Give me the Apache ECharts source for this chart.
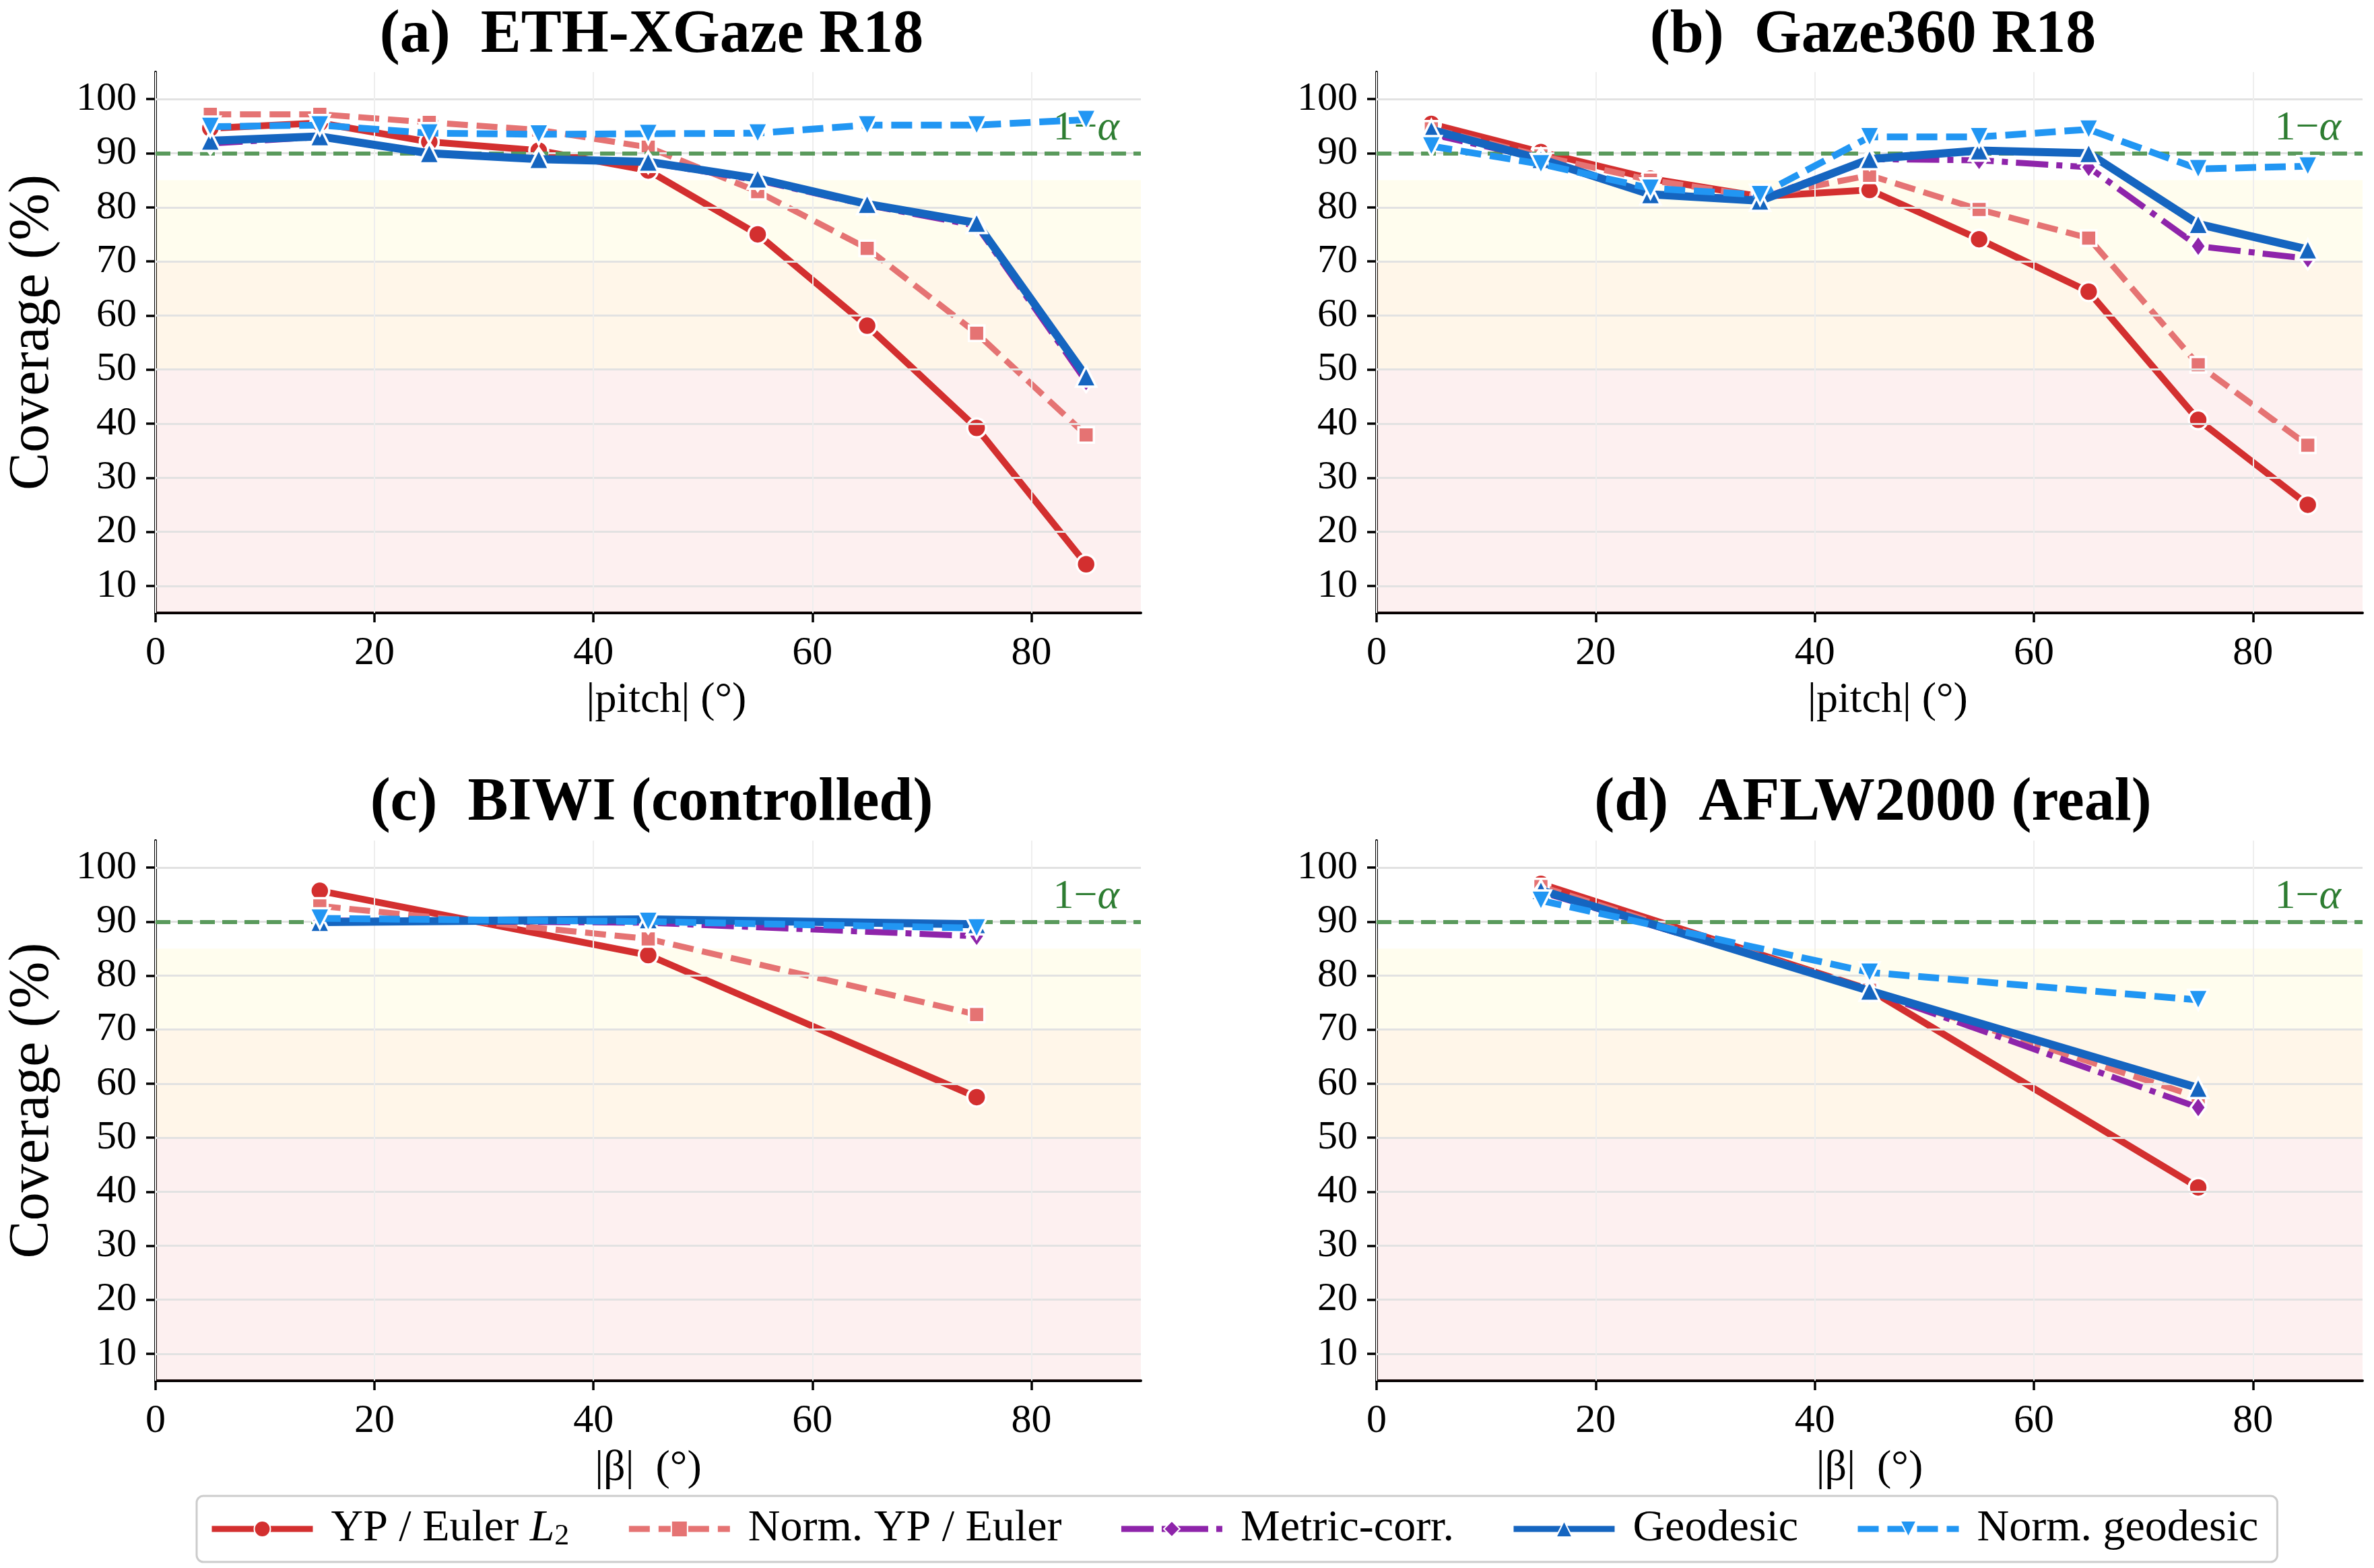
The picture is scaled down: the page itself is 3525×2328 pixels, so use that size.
<!DOCTYPE html>
<html>
<head>
<meta charset="utf-8">
<script src="https://cdn.jsdelivr.net/npm/echarts@6/dist/echarts.min.js"></script>
<style>
html,body{margin:0;padding:0;background:#fff;}
#chart{width:3525px;height:2328px;}
</style>
</head>
<body>
<div id="chart"></div>
<script>
// ---------------- data ----------------
const pitchBins = [5, 15, 25, 35, 45, 55, 65, 75, 85];
const betaBins = [15, 45, 75];

const titles = ['(a)  ETH-XGaze R18', '(b)  Gaze360 R18', '(c)  BIWI (controlled)', '(d)  AFLW2000 (real)'];
const xNames = ['|pitch| (°)', '|pitch| (°)', '|β|  (°)', '|β|  (°)'];
const seriesNames = ['YP / Euler L2', 'Norm. YP / Euler', 'Metric-corr.', 'Geodesic', 'Norm. geodesic'];
const yTicks = [10, 20, 30, 40, 50, 60, 70, 80, 90, 100];
const xTicks = [0, 20, 40, 60, 80];

// (a) ETH-XGaze R18
const ypA   = [94.6, 95.6, 92.1, 90.5, 86.8, 75.0, 58.1, 39.2, 14.0];
const nypA  = [97.2, 97.2, 95.7, 94.3, 91.1, 82.9, 72.4, 56.7, 37.9];
const metA  = [91.8, 93.0, 90.0, 89.0, 88.3, 85.0, 80.4, 76.6, 47.8];
const geoA  = [92.3, 93.1, 90.0, 88.9, 88.4, 85.3, 80.6, 77.1, 48.7];
const ngeoA = [94.9, 95.2, 93.7, 93.5, 93.6, 93.7, 95.2, 95.2, 96.2];
// (b) Gaze360 R18
const ypB   = [95.4, 90.2, 85.3, 82.0, 83.2, 74.1, 64.4, 40.7, 25.0];
const nypB  = [94.5, 89.5, 85.0, 82.0, 85.9, 79.6, 74.3, 50.9, 36.0];
const metB  = [93.5, 89.0, 82.5, 81.5, 88.9, 88.7, 87.4, 72.8, 70.5];
const geoB  = [94.3, 88.9, 82.4, 81.2, 88.9, 90.5, 90.0, 76.9, 72.2];
const ngeoB = [91.3, 88.0, 83.5, 82.3, 93.0, 93.0, 94.4, 87.1, 87.6];
// (c) BIWI (controlled)
const ypC   = [95.7, 83.8, 57.5];
const nypC  = [92.9, 86.8, 72.8];
const metC  = [90.2, 89.8, 87.3];
const geoC  = [89.9, 90.4, 89.5];
const ngeoC = [90.6, 90.0, 88.8];
// (d) AFLW2000 (real)
const ypD   = [97.0, 77.4, 40.8];
const nypD  = [96.5, 77.3, 57.5];
const metD  = [95.5, 77.2, 55.6];
const geoD  = [95.8, 77.2, 59.2];
const ngeoD = [93.9, 80.6, 75.5];

const targetLevel = 90;
const bands = [[5, 50], [50, 70], [70, 85]];

// ---------------- styling ----------------
const FONT = 'Liberation Serif';
const panels = [
  {xs: pitchBins, vals: [ypA, nypA, metA, geoA, ngeoA]},
  {xs: pitchBins, vals: [ypB, nypB, metB, geoB, ngeoB]},
  {xs: betaBins,  vals: [ypC, nypC, metC, geoC, ngeoC]},
  {xs: betaBins,  vals: [ypD, nypD, metD, geoD, ngeoD]}
];
const gridPos = [
  {left: 231, top: 107, width: 1463, height: 803},
  {left: 2044, top: 107, width: 1464, height: 803},
  {left: 231, top: 1248, width: 1463, height: 802},
  {left: 2044, top: 1248, width: 1464, height: 802}
];
const styles = [
  {color: '#d32f2f', type: 'solid', width: 10, symbol: 'circle', size: 28, rot: 0},
  {color: '#e57373', type: [31, 13], width: 9, symbol: 'rect', size: 23, rot: 0},
  {color: '#8e24aa', type: [48, 12, 9, 12], width: 9, symbol: 'diamond', size: [23, 32], rot: 0},
  {color: '#1565c0', type: 'solid', width: 12, symbol: 'triangle', size: 30, rot: 0},
  {color: '#2196f3', type: [31, 13], width: 10, symbol: 'triangle', size: 30, rot: 180}
];
const bandColors = ['rgba(229,57,53,0.075)', 'rgba(255,152,0,0.085)', 'rgba(255,235,59,0.085)'];

const grids = [], xAxes = [], yAxes = [], series = [], titleOpts = [];
panels.forEach((p, k) => {
  grids.push(Object.assign({containLabel: false}, gridPos[k]));
  xAxes.push({
    type: 'value', gridIndex: k, min: 0, max: 90, interval: 10,
    name: xNames[k], nameLocation: 'middle', nameGap: 98,
    nameTextStyle: {fontFamily: FONT, fontSize: 64, color: '#000', padding: k < 2 ? [0, 0, 0, 54] : 0},
    axisLine: {lineStyle: {color: '#000', width: 4}},
    axisTick: {show: true, customValues: xTicks, length: 14, lineStyle: {color: '#000', width: 3.5}},
    axisLabel: {customValues: xTicks, fontFamily: FONT, fontSize: 60, color: '#000', margin: 30},
    splitLine: {show: false}
  });
  yAxes.push({
    type: 'value', gridIndex: k, min: 5, max: 105, interval: 5,
    name: (k % 2 === 0) ? 'Coverage (%)' : '', nameLocation: 'middle', nameGap: 140,
    nameTextStyle: {fontFamily: FONT, fontSize: 84, color: '#000', padding: [0, 0, 0, 30]},
    axisLine: {show: true, lineStyle: {color: '#000', width: 4}},
    axisTick: {show: true, customValues: yTicks, length: 14, lineStyle: {color: '#000', width: 3.5}},
    axisLabel: {customValues: yTicks, fontFamily: FONT, fontSize: 60, color: '#000', margin: 28},
    splitLine: {show: false}
  });
  const cx = gridPos[k].left + gridPos[k].width / 2;
  titleOpts.push({
    text: titles[k], left: cx, textAlign: 'center', top: k < 2 ? 4 : 1144,
    textStyle: {fontFamily: FONT, fontSize: 90, fontWeight: 'bold', color: '#000'}
  });
  // helper series: bands, grid lines, target line
  const gridLines = yTicks.map(v => ({yAxis: v, lineStyle: {color: '#e2e2e2', width: 3, type: 'solid'}}))
    .concat(xTicks.map(v => ({xAxis: v, lineStyle: {color: '#eeeeee', width: 2, type: 'solid'}})));
  gridLines.push({
    yAxis: targetLevel,
    lineStyle: {color: '#5a9a5c', width: 6, type: [22, 11]},
    label: {
      show: true, position: 'insideEndTop', distance: [32, 6],
      formatter: '{n|1−}{a|α}',
      rich: {
        n: {fontFamily: FONT, fontSize: 62, color: '#2e7d32'},
        a: {fontFamily: FONT, fontSize: 62, fontStyle: 'italic', color: '#2e7d32'}
      }
    }
  });
  series.push({
    type: 'line', xAxisIndex: k, yAxisIndex: k, data: [], z: 1, silent: true,
    markArea: {
      silent: true,
      data: bands.map((b, i) => [{yAxis: b[0], itemStyle: {color: bandColors[i]}}, {yAxis: b[1]}])
    },
    markLine: {silent: true, symbol: ['none', 'none'], label: {show: false}, data: gridLines}
  });
  p.vals.forEach((arr, s) => {
    const st = styles[s];
    series.push({
      name: seriesNames[s], type: 'line', xAxisIndex: k, yAxisIndex: k, z: 3 + s,
      data: p.xs.map((x, i) => [x, arr[i]]),
      symbol: st.symbol, symbolSize: st.size, symbolRotate: st.rot, showAllSymbol: true,
      lineStyle: {color: st.color, width: st.width, type: st.type},
      itemStyle: {color: st.color, borderColor: '#ffffff', borderWidth: 3.5}
    });
  });
});

const chart = echarts.init(document.getElementById('chart'), null, {renderer: 'canvas'});
chart.setOption({
  animation: false,
  backgroundColor: '#ffffff',
  textStyle: {fontFamily: FONT},
  title: titleOpts,
  grid: grids,
  xAxis: xAxes,
  yAxis: yAxes,
  legend: {
    data: seriesNames,
    left: 292, top: 2221,
    orient: 'horizontal',
    itemWidth: 150, itemHeight: 30, itemGap: 84,
    padding: [16, 28, 16, 18],
    borderColor: '#cccccc', borderWidth: 3, borderRadius: 10,
    backgroundColor: '#ffffff',
    lineStyle: {width: 9},
    formatter: name => name === 'YP / Euler L2' ? '{n|YP / Euler }{i|L}{s|2}' : name,
    textStyle: {
      fontFamily: FONT, fontSize: 66, color: '#000', padding: [0, 0, 0, 22],
      rich: {
        n: {fontFamily: FONT, fontSize: 66, color: '#000'},
        i: {fontFamily: FONT, fontSize: 66, fontStyle: 'italic', color: '#000'},
        s: {fontFamily: FONT, fontSize: 44, color: '#000', verticalAlign: 'bottom', padding: [22, 0, 0, 0]}
      }
    }
  },
  series: series
});
</script>
</body>
</html>
